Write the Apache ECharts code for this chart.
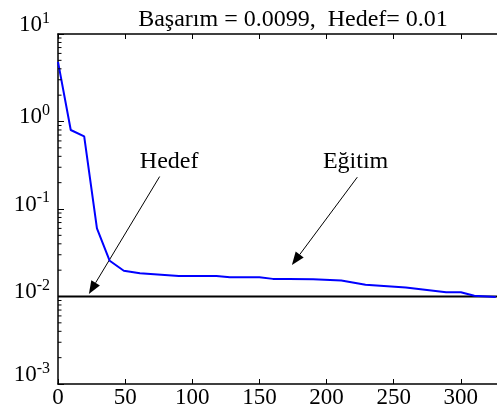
<!DOCTYPE html>
<html>
<head>
<meta charset="utf-8">
<script src="https://cdn.jsdelivr.net/npm/echarts@6/dist/echarts.min.js"></script>
<style>
  html, body { margin: 0; padding: 0; background: #fff; }
  #chart { width: 497px; height: 410px; }
</style>
</head>
<body>
<div id="chart"></div>
<script>
// Training performance (log scale) versus epochs
const epochs = [0, 9.5, 19.5, 29, 38.5, 49, 61, 90, 118, 128, 150, 160, 172, 190, 211, 229, 259, 289, 300, 310, 326];
const performance = [4.8, 0.80, 0.675, 0.060, 0.0256, 0.0197, 0.0184, 0.0172, 0.0172, 0.0166, 0.0166, 0.0159, 0.0159, 0.0157, 0.0152, 0.0136, 0.0127, 0.0112, 0.0112, 0.0102, 0.0099];
const goal = 0.01;
const goalRange = [0, 350];
const xTicks = [0, 50, 100, 150, 200, 250, 300];
const yDecades = [0.001, 0.01, 0.1, 1, 10];
const titleText = 'Başarım = 0.0099,  Hedef= 0.01';
// annotation labels with arrow start/end in data coordinates
const notes = [
  { text: 'Hedef', at: [82.8, 0.35], from: [75.7, 0.235], to: [23, 0.0107] },
  { text: 'Eğitim', at: [221.6, 0.35], from: [222.9, 0.231], to: [174.2, 0.0229] }
];

const FONT = '"Liberation Serif", "DejaVu Serif", serif';

// log minor tick values (2..9 within each decade)
const minorVals = [];
for (let k = 0; k < yDecades.length - 1; k++) {
  for (let m = 2; m <= 9; m++) minorVals.push([0, yDecades[k] * m]);
}

const chart = echarts.init(document.getElementById('chart'), null, { renderer: 'canvas' });

const axisLineStyle = { color: '#000', width: 1.5 };

const option = {
  animation: false,
  backgroundColor: '#ffffff',
  grid: { left: 58, width: 470, top: 34, bottom: 26, containLabel: false, outerBoundsMode: 'none' },
  xAxis: [
    {
      type: 'value', min: 0, max: 350, interval: 50, position: 'bottom',
      axisLine: { show: true, onZero: false, lineStyle: axisLineStyle },
      axisTick: { show: true, inside: true, length: 5, lineStyle: { color: '#000', width: 1 } },
      axisLabel: {
        show: true, color: '#000', fontFamily: FONT, fontSize: 23, margin: 2,
        formatter: v => (xTicks.indexOf(v) >= 0 ? String(v) : '')
      },
      splitLine: { show: false }
    },
    {
      type: 'value', min: 0, max: 350, interval: 50, position: 'top',
      axisLine: { show: true, onZero: false, lineStyle: axisLineStyle },
      axisTick: { show: true, inside: true, length: 5, lineStyle: { color: '#000', width: 1 } },
      axisLabel: { show: false },
      splitLine: { show: false }
    }
  ],
  yAxis: {
    type: 'log', logBase: 10, min: 0.001, max: 10,
    axisLine: { show: true, onZero: false, lineStyle: axisLineStyle },
    axisTick: { show: true, inside: true, length: 6, lineStyle: { color: '#000', width: 1 } },
    axisLabel: { show: false },
    splitLine: { show: false }
  },
  series: [
    {
      name: 'Eğitim', type: 'line', xAxisIndex: 0, yAxisIndex: 0,
      data: epochs.map((e, i) => [e, performance[i]]),
      showSymbol: false, symbol: 'none',
      lineStyle: { color: '#0000ff', width: 2 }, z: 3
    },
    {
      name: 'Hedef', type: 'line', xAxisIndex: 0, yAxisIndex: 0,
      data: goalRange.map(e => [e, goal]),
      showSymbol: false, symbol: 'none',
      lineStyle: { color: '#000', width: 2 }, z: 2
    },
    {
      // minor ticks on the log axis
      type: 'custom', xAxisIndex: 0, yAxisIndex: 0, silent: true, clip: false,
      data: minorVals,
      renderItem: (params, api) => {
        const p = api.coord([api.value(0), api.value(1)]);
        return {
          type: 'line',
          shape: { x1: p[0], y1: p[1], x2: p[0] + 3.5, y2: p[1] },
          style: { stroke: '#000', lineWidth: 1 }
        };
      },
      z: 4
    },
    {
      // power-of-ten labels of the log axis (10 with superscript exponent);
      // the end labels are kept inside the axis span
      type: 'custom', xAxisIndex: 0, yAxisIndex: 0, silent: true, clip: false,
      data: yDecades.map(v => [0, v]),
      renderItem: (params, api) => {
        const v = api.value(1);
        const p = api.coord([0, v]);
        const last = yDecades.length - 1;
        const isEnd = params.dataIndex === 0 || params.dataIndex === last;
        return {
          type: 'text',
          x: p[0] - 8,
          y: p[1] + (isEnd ? 2.5 : 7),
          style: {
            text: '{b|10}{s|' + Math.round(Math.log10(v)) + '}',
            align: 'right',
            verticalAlign: 'bottom',
            rich: {
              b: { fontFamily: FONT, fontSize: 23, fill: '#000', verticalAlign: 'bottom' },
              s: { fontFamily: FONT, fontSize: 16, fill: '#000', verticalAlign: 'top', padding: [0, 0, 10, 0] }
            }
          }
        };
      },
      z: 4
    }
  ]
};

chart.setOption(option);

function px(pt) {
  return chart.convertToPixel({ xAxisIndex: 0, yAxisIndex: 0 }, pt);
}

function arrow(from, to) {
  const a = px(from), b = px(to);
  const dx = b[0] - a[0], dy = b[1] - a[1];
  const len = Math.sqrt(dx * dx + dy * dy);
  const ux = dx / len, uy = dy / len;
  const head = 13, half = 5;
  const bx = b[0] - ux * head, by = b[1] - uy * head;
  return [
    { type: 'line', shape: { x1: a[0], y1: a[1], x2: bx, y2: by }, style: { stroke: '#000', lineWidth: 1 } },
    {
      type: 'polygon',
      shape: { points: [[b[0], b[1]], [bx - uy * half, by + ux * half], [bx + uy * half, by - ux * half]] },
      style: { fill: '#000' }
    }
  ];
}

const graphics = [];
const titleX = px([175, 1])[0];
graphics.push({
  type: 'text', x: titleX, y: 8,
  style: { text: titleText, fontFamily: FONT, fontSize: 24, fill: '#000', textAlign: 'center', textVerticalAlign: 'top' }
});
notes.forEach(n => {
  const p = px(n.at);
  graphics.push({
    type: 'text', x: p[0], y: p[1],
    style: { text: n.text, fontFamily: FONT, fontSize: 24, fill: '#000', textAlign: 'center', textVerticalAlign: 'middle' }
  });
  arrow(n.from, n.to).forEach(g => graphics.push(g));
});

chart.setOption({ graphic: graphics });
</script>
</body>
</html>
